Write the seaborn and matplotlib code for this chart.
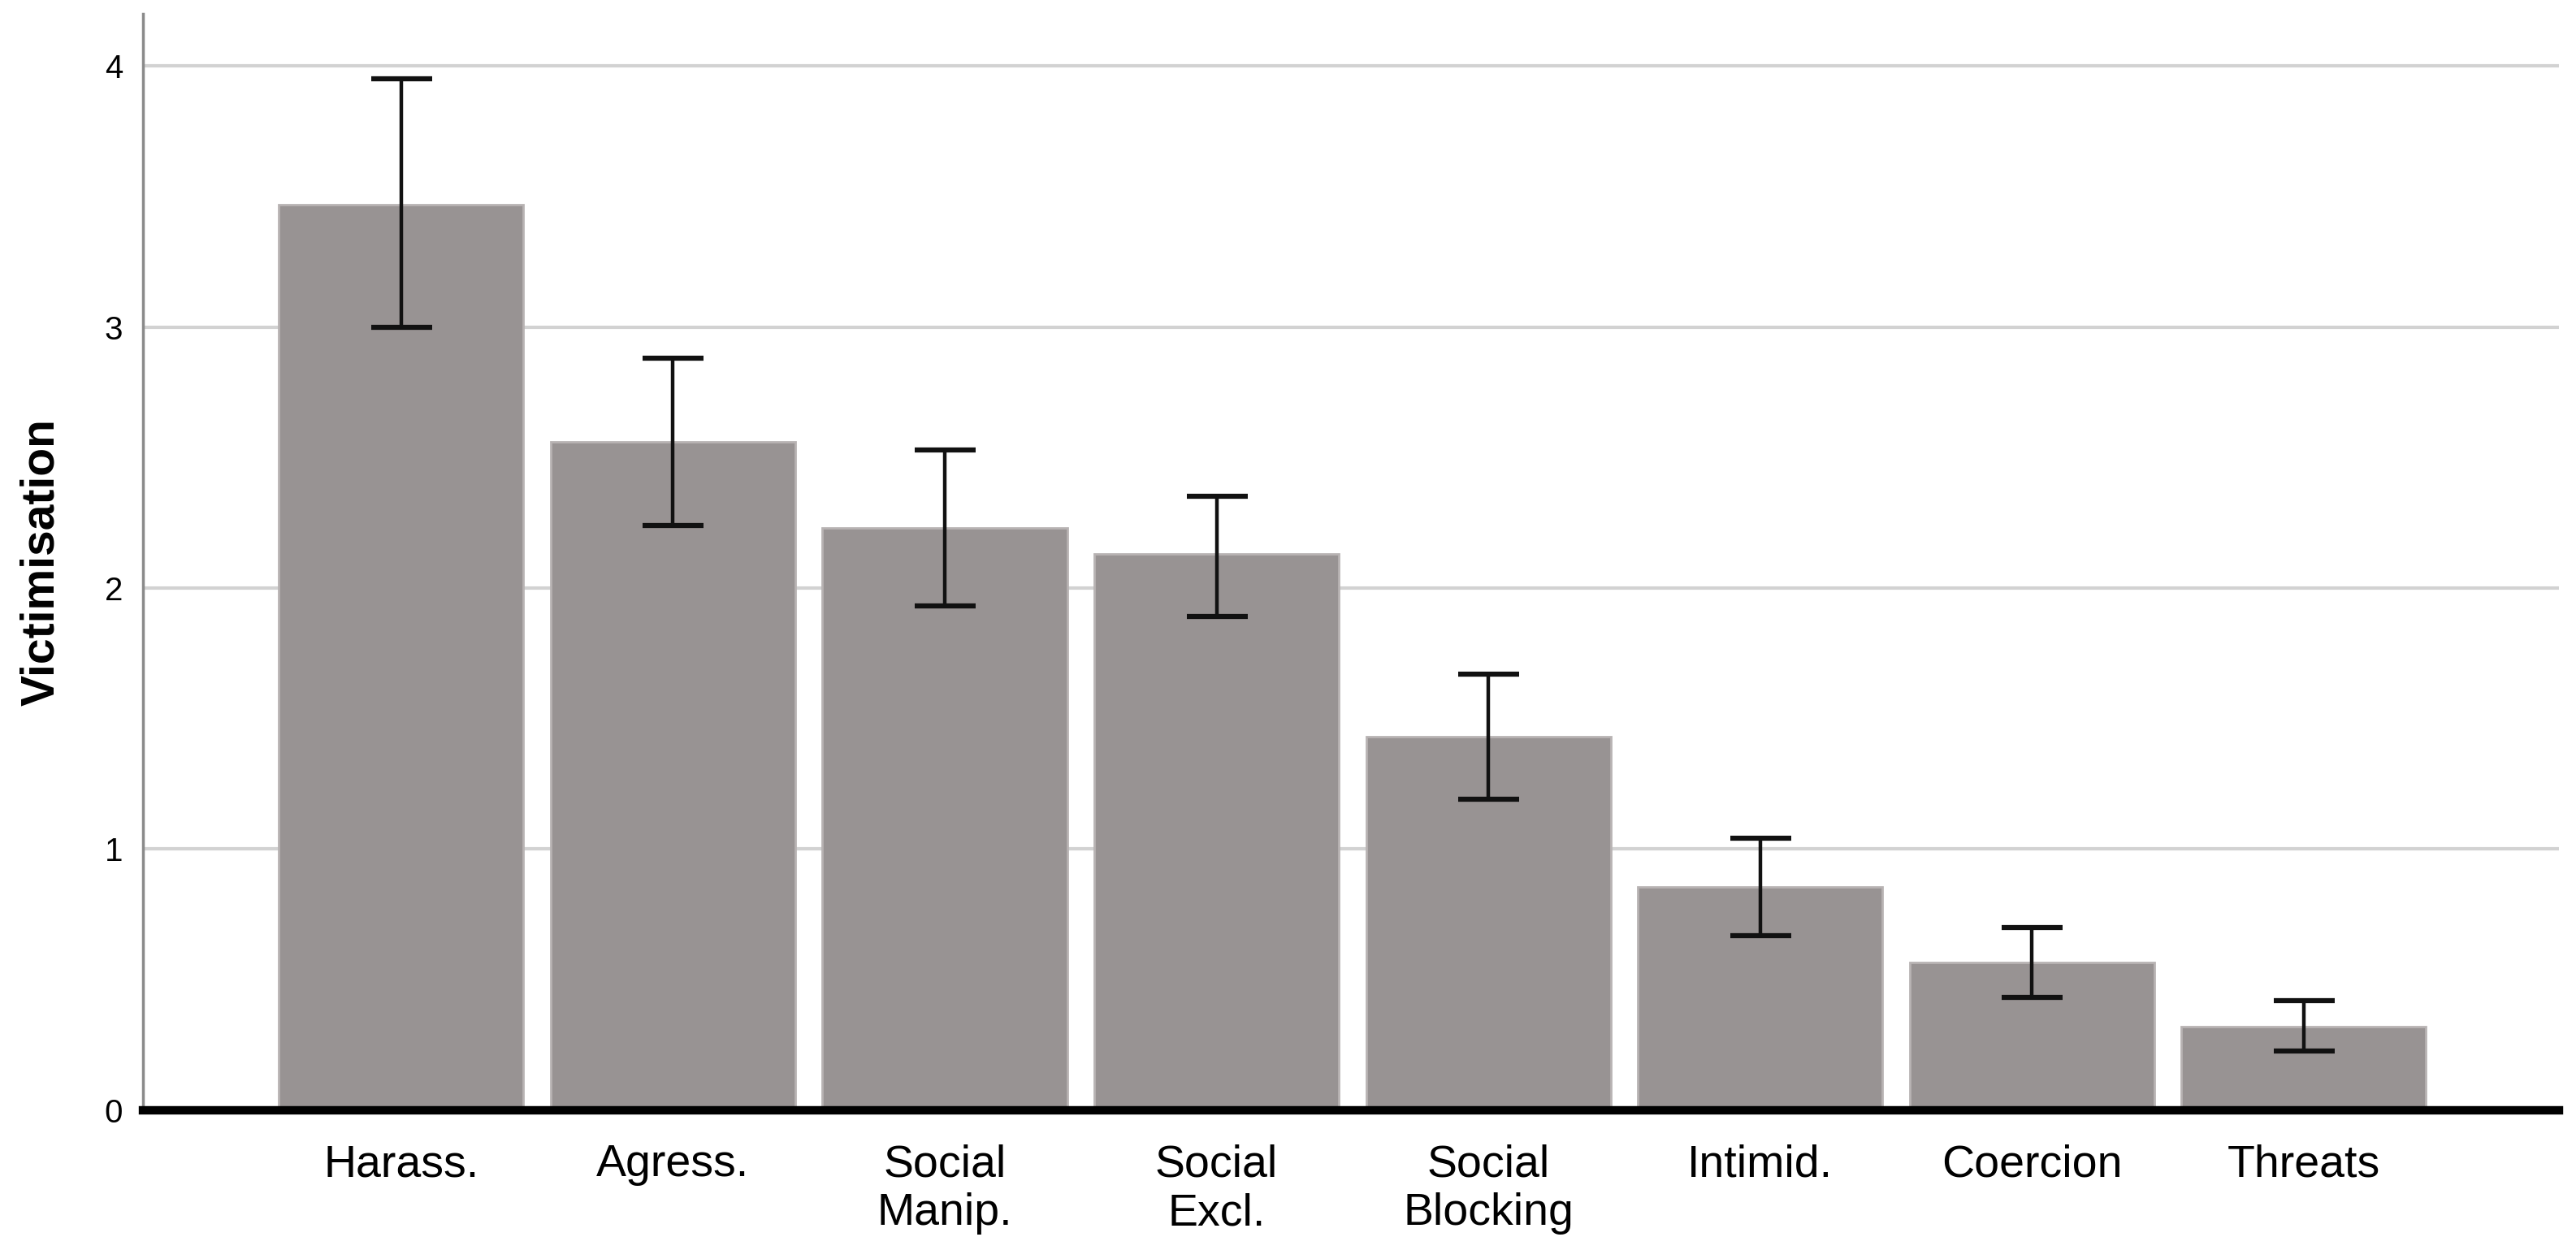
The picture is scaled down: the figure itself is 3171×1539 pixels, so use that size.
import numpy as np
import pandas as pd
import matplotlib
matplotlib.use("Agg")
import matplotlib.pyplot as plt
import seaborn as sns

# values
categories = ["Harass.", "Agress.", "Social\nManip.", "Social\nExcl.",
              "Social\nBlocking", "Intimid.", "Coercion", "Threats"]
means = [3.47, 2.56, 2.23, 2.13, 1.43, 0.855, 0.566, 0.32]
ci_low = [3.00, 2.24, 1.93, 1.89, 1.19, 0.667, 0.43, 0.226]
ci_high = [3.95, 2.88, 2.53, 2.35, 1.67, 1.04, 0.70, 0.42]

df = pd.DataFrame({"category": categories, "mean": means})

sns.set_style("white")
plt.rcParams["font.family"] = ["Liberation Sans", "DejaVu Sans"]
plt.rcParams["text.color"] = "black"
plt.rcParams["xtick.color"] = "black"
plt.rcParams["ytick.color"] = "black"
plt.rcParams["axes.labelcolor"] = "black"

fig = plt.figure(figsize=(31.71, 15.39), dpi=100)
ax = fig.add_axes([0.0555, 0.112, 0.938, 0.877])

sns.barplot(data=df, x="category", y="mean", color="#989393", width=0.9,
            saturation=1, edgecolor="#b8b3b3", linewidth=2, errorbar=None,
            ax=ax, zorder=2)

# confidence intervals
m = np.array(means)
lo = m - np.array(ci_low)
hi = np.array(ci_high) - m
ax.errorbar(x=np.arange(len(categories)), y=m, yerr=[lo, hi], fmt="none",
            ecolor="#111111", elinewidth=3.2, capsize=27, capthick=4.5, zorder=3)

ax.set_ylim(0, 4.2)
ax.set_xlim(-0.95, 7.94)
ax.set_yticks([0, 1, 2, 3, 4])
ax.yaxis.grid(True, color="#d2d2d2", linewidth=3, zorder=0)
ax.set_axisbelow(True)

for side in ["top", "right"]:
    ax.spines[side].set_visible(False)
ax.spines["left"].set_color("#8a8a8a")
ax.spines["left"].set_linewidth(2.5)
ax.spines["bottom"].set_color("black")
ax.spines["bottom"].set_linewidth(7.5)
ax.spines["bottom"].set_zorder(4)

ax.tick_params(axis="y", length=0, pad=18, labelsize=29)
ax.tick_params(axis="x", length=0, pad=30, labelsize=40)

ax.set_xlabel("")
ax.set_ylabel("Victimisation", fontsize=41, fontweight="bold", labelpad=36)

fig.savefig("out.png", dpi=100, facecolor="white")
